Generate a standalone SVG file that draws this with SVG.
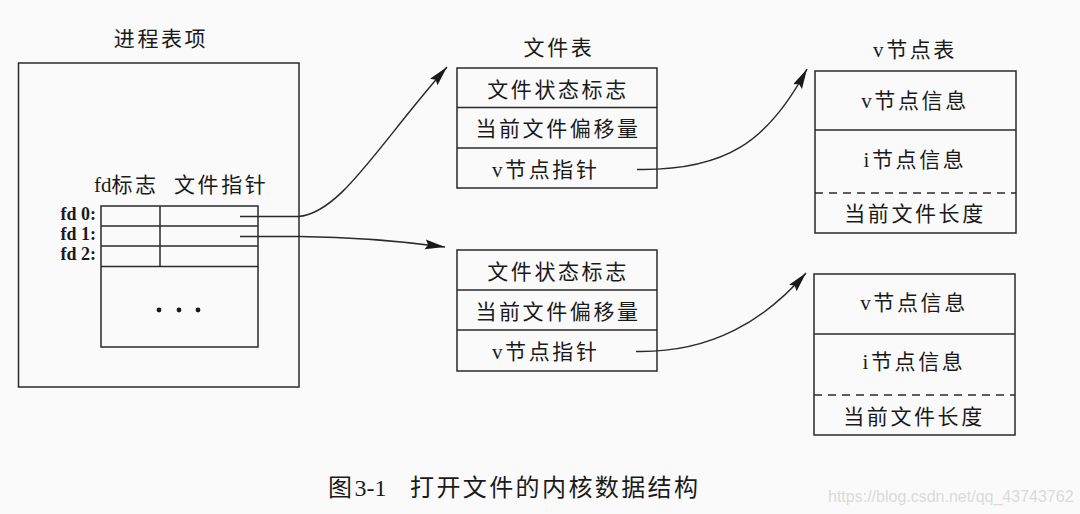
<svg xmlns="http://www.w3.org/2000/svg" width="1080" height="514" viewBox="0 0 1080 514">
<style>
.box{fill:none;stroke:#2a2a2a;stroke-width:1.5}
.ln{stroke:#2a2a2a;stroke-width:1.5}
.dash{stroke:#2a2a2a;stroke-width:1.5;stroke-dasharray:8 6}
.t{font-family:"Liberation Serif","Noto Sans CJK SC",serif;font-size:21px;fill:#1a1a1a;letter-spacing:2.6px}
.c{text-anchor:middle}
.lat{letter-spacing:0}
.fd{font-family:"Liberation Serif","Noto Sans CJK SC",serif;font-size:18px;font-weight:bold;fill:#1a1a1a;text-anchor:end}
.conn{fill:none;stroke:#2a2a2a;stroke-width:1.5;marker-end:url(#arr)}
.cap{font-family:"Liberation Serif","Noto Sans CJK SC",serif;font-size:24px;fill:#1a1a1a;letter-spacing:2.4px}
.wm{font-family:"Liberation Sans","Noto Sans",sans-serif;font-size:16px;fill:#dadada}
</style>
<defs>
<marker id="arr" markerUnits="userSpaceOnUse" markerWidth="22" markerHeight="11" refX="20" refY="5" orient="auto">
<path d="M0,0 L20,5 L0,10 L3,5 z" fill="#1a1a1a"/>
</marker>
</defs>
<rect width="1080" height="514" fill="#fafafa"/>

<g id="process-entry">
<text class="t c" x="161" y="46">进程表项</text>
<rect class="box" x="18.5" y="63" width="280.5" height="324"/>
<text class="t" x="94" y="192"><tspan class="lat">fd</tspan>标志<tspan x="174">文件指针</tspan></text>
<rect class="box" x="101" y="206" width="157" height="141"/>
<line class="ln" x1="101" y1="226" x2="258" y2="226"/>
<line class="ln" x1="101" y1="246" x2="258" y2="246"/>
<line class="ln" x1="101" y1="266.5" x2="258" y2="266.5"/>
<line class="ln" x1="160" y1="206" x2="160" y2="266.5"/>
<text class="fd" x="96" y="220">fd 0:</text>
<text class="fd" x="96" y="240">fd 1:</text>
<text class="fd" x="96" y="260">fd 2:</text>
<circle cx="159" cy="310" r="2.4" fill="#1a1a1a"/>
<circle cx="179" cy="310" r="2.4" fill="#1a1a1a"/>
<circle cx="198" cy="310" r="2.4" fill="#1a1a1a"/>
</g>

<g id="file-table-1">
<text class="t c" x="559" y="55">文件表</text>
<rect class="box" x="457" y="68" width="200" height="120"/>
<line class="ln" x1="457" y1="107.5" x2="657" y2="107.5"/>
<line class="ln" x1="457" y1="148" x2="657" y2="148"/>
<text class="t c" x="558" y="97">文件状态标志</text>
<text class="t c" x="558" y="136">当前文件偏移量</text>
<text class="t" x="492" y="177">v节点指针</text>
</g>

<g id="file-table-2">
<rect class="box" x="457" y="250" width="200" height="121"/>
<line class="ln" x1="457" y1="290" x2="657" y2="290"/>
<line class="ln" x1="457" y1="330" x2="657" y2="330"/>
<text class="t c" x="558" y="279">文件状态标志</text>
<text class="t c" x="558" y="319">当前文件偏移量</text>
<text class="t" x="492" y="359">v节点指针</text>
</g>

<g id="vnode-table-1">
<text class="t c" x="915" y="57">v节点表</text>
<rect class="box" x="815" y="71" width="201" height="162"/>
<line class="ln" x1="815" y1="130" x2="1016" y2="130"/>
<line class="dash" x1="815" y1="193" x2="1016" y2="193"/>
<text class="t c" x="915" y="108">v节点信息</text>
<text class="t c" x="915" y="167">i节点信息</text>
<text class="t c" x="915" y="221">当前文件长度</text>
</g>

<g id="vnode-table-2">
<rect class="box" x="814" y="274" width="201" height="161"/>
<line class="ln" x1="814" y1="334" x2="1015" y2="334"/>
<line class="dash" x1="814" y1="395" x2="1015" y2="395"/>
<text class="t c" x="914" y="310">v节点信息</text>
<text class="t c" x="914" y="369">i节点信息</text>
<text class="t c" x="914" y="424">当前文件长度</text>
</g>

<g id="connectors">
<path class="conn" d="M240,216.5 L298,216.5 C340,214 378,145 447,67"/>
<path class="conn" d="M240,236.5 L300,236.5 C350,237 400,241 445,247"/>
<path class="conn" d="M637,169.5 C725,171 768,142 807,69"/>
<path class="conn" d="M636,351.5 C712,353 765,320 806,273"/>
</g>

<g id="caption">
<text class="cap" x="328" y="496">图<tspan class="lat">3-1</tspan><tspan x="410">打开文件的内核数据结构</tspan></text>
</g>
<g id="watermark">
<text class="wm" x="828" y="502">https://blog.csdn.net/qq_43743762</text>
</g>
</svg>
